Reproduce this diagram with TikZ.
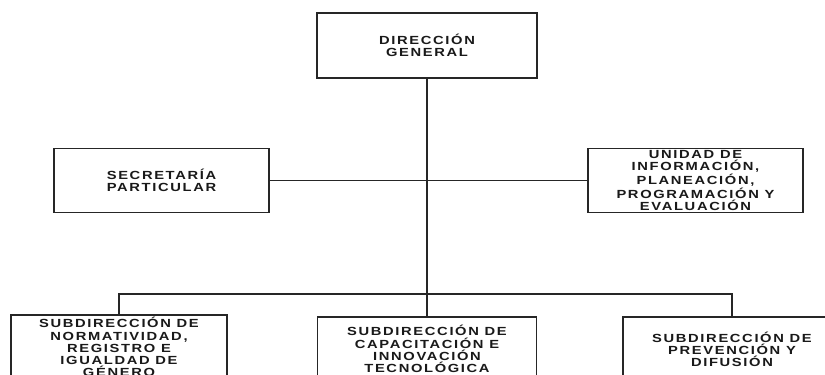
\documentclass[tikz,border=0pt]{standalone}
\usepackage{fontspec}
\newfontfamily\orgfont[FakeStretch=1.25,LetterSpace=14]{Liberation Sans}
\begin{document}
\begin{tikzpicture}[x=0.02cm,y=-0.02cm,
  orgbox/.style={draw=black!85,line width=1.1pt,fill=white,inner sep=0pt,
    align=center,text=black!90,font=\orgfont\bfseries\fontsize{6.7}{6.9}\selectfont},
  conn/.style={draw=black!85,line width=1.1pt}]
\useasboundingbox (0,0) rectangle (825,375);
\clip (0,0) rectangle (825,375);
\fill[white] (0,0) rectangle (825,375);
\node[orgbox,minimum width=4.4cm,minimum height=1.3cm] (dg) at (427,45.5) {DIRECCIÓN\\GENERAL};
\node[orgbox,minimum width=4.3cm,minimum height=1.28cm] (sec) at (161.5,180.5) {SECRETARÍA\\PARTICULAR};
\node[orgbox,minimum width=4.3cm,minimum height=1.28cm] (uni) at (695.5,180.5) {UNIDAD DE\\INFORMACIÓN,\\PLANEACIÓN,\\PROGRAMACIÓN Y\\EVALUACIÓN};
\node[orgbox,minimum width=4.32cm,minimum height=1.28cm] (sl) at (119,347) {SUBDIRECCIÓN DE\\NORMATIVIDAD,\\REGISTRO E\\IGUALDAD DE\\GÉNERO};
\node[orgbox,minimum width=4.38cm,minimum height=1.28cm] (sm) at (427,349) {SUBDIRECCIÓN DE\\CAPACITACIÓN E\\INNOVACIÓN\\TECNOLÓGICA};
\node[orgbox,minimum width=4.36cm,minimum height=1.28cm] (sr) at (732,349) {SUBDIRECCIÓN DE\\PREVENCIÓN Y\\DIFUSIÓN};
\coordinate (bus) at (427,294);
\draw[conn] (dg.south) -- (sm.north);
\draw[conn] (sec.east) -- (uni.west);
\draw[conn] (sl.north) |- (bus) -| (sr.north);
\end{tikzpicture}
\end{document}
